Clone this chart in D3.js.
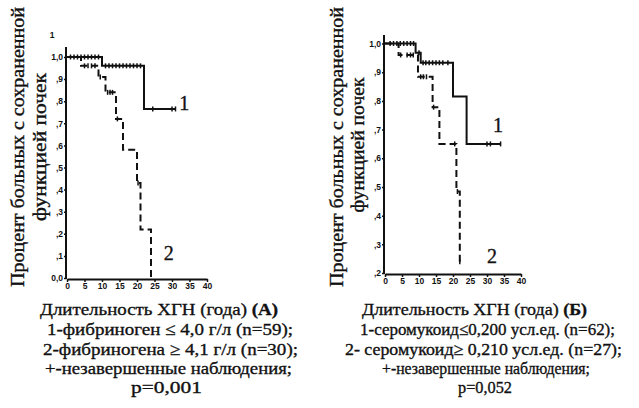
<!DOCTYPE html>
<html>
<head>
<meta charset="utf-8">
<script src="https://cdnjs.cloudflare.com/ajax/libs/d3/7.8.5/d3.min.js"></script>
<style>
  body { margin: 0; background: #fff; }
  svg { display: block; }
  text { font-family: "Liberation Serif", "Times New Roman", serif; fill: #111; }
  .big { stroke: #111; stroke-width: 0.35px; }
  .tick text { font-family: "Liberation Sans", Arial, sans-serif; font-weight: bold; font-size: 8.5px; }
</style>
</head>
<body>
<div id="chart"></div>
<script>
// ---- data ----
var xTicks = [0, 5, 10, 15, 20, 25, 30, 35, 40];

var leftYTicks = [0, 0.1, 0.2, 0.3, 0.4, 0.5, 0.6, 0.7, 0.8, 0.9, 1.0];
var leftYLabels = ["0,0", ",1", ",2", ",3", ",4", ",5", ",6", ",7", ",8", ",9", "1,0"];
var rightYTicks = [0.2, 0.3, 0.4, 0.5, 0.6, 0.7, 0.8, 0.9, 1.0];
var rightYLabels = [",2", ",3", ",4", ",5", ",6", ",7", ",8", ",9", "1,0"];

// (A) fibrinogen
var leftTime1 = [0, 10, 22, 31];
var leftSurv1 = [1.0, 0.96, 0.765, 0.765];
var leftCens1 = [1, 2, 3, 4, 5, 6, 7, 8, 9, 11, 12, 13, 14, 15, 16, 17, 18, 19, 20, 21, 24.5, 30, 31];
var leftTime2 = [0, 4, 9, 11, 14, 16, 20, 21, 24];
var leftSurv2 = [1.0, 0.96, 0.91, 0.84, 0.72, 0.58, 0.43, 0.22, 0];
var leftCens2 = [5, 6, 7, 8, 9.5, 11.6, 12.3, 13, 14.4, 20.3];

// (Б) seromucoid
var rightTime1 = [0, 9, 10.5, 20, 24, 34];
var rightSurv1 = [1.0, 0.968, 0.933, 0.815, 0.65, 0.65];
var rightCens1 = [1.5, 2.5, 3.5, 4.5, 5.5, 6.5, 7.5, 8.4, 10, 11.2, 12, 13, 14, 15, 16, 17, 18.5, 30, 31, 34];
var rightTime2 = [0, 4, 9.7, 14, 16, 21, 22];
var rightSurv2 = [1.0, 0.96, 0.884, 0.778, 0.65, 0.484, 0.239];
var rightCens2 = [4.6, 6.5, 7.5, 8.3, 10.5, 11.3, 12.2, 14.3, 20.5, 21.3, 22];

var yTitle1 = "Процент больных с сохраненной";
var yTitle2 = "функцией почек";
var leftCaption = ["Длительность ХГН (года) |(А)", "1-фибриноген ≤ 4,0 г/л (n=59);", "2-фибриногена ≥ 4,1 г/л (n=30);", "+-незавершенные наблюдения;", "p=0,001"];
var rightCaption = ["Длительность ХГН (года) |(Б)", "1-серомукоид≤0,200 усл.ед. (n=62);", "2- серомукоид≥ 0,210 усл.ед. (n=27);", "+-незавершенные наблюдения;", "p=0,052"];

// ---- layout ----
var width = 639, height = 408;

var svg = d3.select("#chart")
  .append("svg")
  .attr("width", width)
  .attr("height", height);

svg.append("rect").attr("width", width).attr("height", height).attr("fill", "#fff");

function zip(times, surv) {
  return times.map(function(t, i) { return { t: t, s: surv[i] }; });
}

function survAt(times, surv, t) {
  var k = 0;
  for (var i = 0; i < times.length; i++) {
    if (times[i] <= t) k = i;
  }
  return surv[k];
}

function drawPanel(opt) {
  var g = svg.append("g");
  var x = opt.x, y = opt.y;

  // axes
  var xAxis = d3.axisBottom(x)
    .tickValues(xTicks)
    .tickSize(3)
    .tickSizeOuter(0)
    .tickPadding(1);
  g.append("g")
    .attr("class", "axis x-axis")
    .attr("transform", "translate(0," + (y.range()[0] + 1) + ")")
    .call(xAxis);

  var yAxis = d3.axisLeft(y)
    .tickValues(opt.yTicks)
    .tickFormat(function(d, i) { return opt.yLabels[i]; })
    .tickSize(2)
    .tickPadding(1);
  var ya = g.append("g")
    .attr("class", "axis y-axis")
    .attr("transform", "translate(" + (x(0) - 1) + ",0)")
    .call(yAxis);
  ya.select(".domain").remove();

  g.append("line")
    .attr("x1", x(0) - 1).attr("x2", x(0) - 1)
    .attr("y1", y.range()[0] + 1).attr("y2", y(opt.yTop))
    .attr("stroke", "#111")
    .attr("stroke-width", 2);

  g.selectAll(".x-axis .domain").attr("stroke-width", 2).attr("stroke", "#111");
  g.selectAll(".tick line").attr("stroke", "#111").attr("stroke-width", 1.5);

  var line = d3.line()
    .x(function(d) { return x(d.t); })
    .y(function(d) { return y(d.s); })
    .curve(d3.curveStepAfter);

  // curve 2 (dashed)
  g.append("path")
    .datum(zip(opt.time2, opt.surv2))
    .attr("d", line)
    .attr("fill", "none")
    .attr("stroke", "#111")
    .attr("stroke-width", 2)
    .attr("stroke-dasharray", "7,4");

  // curve 1 (solid)
  g.append("path")
    .datum(zip(opt.time1, opt.surv1))
    .attr("d", line)
    .attr("fill", "none")
    .attr("stroke", "#111")
    .attr("stroke-width", 2);

  // censored observations
  var cens = opt.cens1.map(function(t) { return { t: t, s: survAt(opt.time1, opt.surv1, t) }; })
    .concat(opt.cens2.map(function(t) { return { t: t, s: survAt(opt.time2, opt.surv2, t) }; }));

  g.selectAll(".cens")
    .data(cens)
    .enter()
    .append("line")
    .attr("class", "cens")
    .attr("x1", function(d) { return x(d.t); })
    .attr("x2", function(d) { return x(d.t); })
    .attr("y1", function(d) { return y(d.s) - 2.5; })
    .attr("y2", function(d) { return y(d.s) + 2.5; })
    .attr("stroke", "#111")
    .attr("stroke-width", 1.5);

  // curve labels
  g.append("text")
    .attr("class", "big")
    .attr("x", x(opt.lab1[0]))
    .attr("y", y(opt.lab1[1]))
    .attr("text-anchor", "middle")
    .attr("style", "font-size:20px")
    .text("1");
  g.append("text")
    .attr("class", "big")
    .attr("x", x(opt.lab2[0]))
    .attr("y", y(opt.lab2[1]))
    .attr("text-anchor", "middle")
    .attr("style", "font-size:20px")
    .text("2");

  // y titles
  g.append("text")
    .attr("class", "big")
    .attr("transform", "translate(" + opt.title1[0] + "," + opt.title1[1] + ") rotate(-90)")
    .attr("text-anchor", "middle")
    .attr("textLength", opt.title1[2])
    .attr("lengthAdjust", "spacingAndGlyphs")
    .attr("style", "font-size:19px")
    .text(yTitle1);
  g.append("text")
    .attr("class", "big")
    .attr("transform", "translate(" + opt.title2[0] + "," + opt.title2[1] + ") rotate(-90)")
    .attr("text-anchor", "middle")
    .attr("textLength", opt.title2[2])
    .attr("lengthAdjust", "spacingAndGlyphs")
    .attr("style", "font-size:19px")
    .text(yTitle2);

  // caption under the chart
  var baselines = [315, 335, 355, 374, 393];
  opt.caption.forEach(function(s, i) {
    var t = g.append("text")
      .attr("class", "big")
      .attr("x", opt.capX[i])
      .attr("y", baselines[i])
      .attr("textLength", opt.capW[i])
      .attr("lengthAdjust", "spacingAndGlyphs")
      .attr("style", "font-size:17px");
    var parts = s.split("|");
    t.append("tspan").text(parts[0]);
    if (parts[1]) t.append("tspan").attr("font-weight", "bold").text(parts[1]);
  });
}

// (A)
var xL = d3.scaleLinear().domain([0, 40]).range([67, 207]);
var yL = d3.scaleLinear().domain([0, 1]).range([278, 57]);
drawPanel({
  x: xL, y: yL, yTop: 1.045,
  yTicks: leftYTicks, yLabels: leftYLabels,
  time1: leftTime1, surv1: leftSurv1, cens1: leftCens1,
  time2: leftTime2, surv2: leftSurv2, cens2: leftCens2,
  lab1: [33.5, 0.76], lab2: [29.1, 0.08],
  title1: [24, 147, 280], title2: [46, 147, 148],
  caption: leftCaption,
  capX: [40, 47, 43, 45, 131], capW: [238, 246, 255, 247, 71]
});
// stray "1" label above the left axis
svg.append("text")
  .attr("x", 52)
  .attr("y", yL(1.1) + 3)
  .attr("text-anchor", "middle")
  .attr("style", "font-family:'Liberation Sans',Arial,sans-serif;font-weight:bold;font-size:8.5px")
  .text("1");

// (Б)
var xR = d3.scaleLinear().domain([0, 40]).range([385, 521]);
var yR = d3.scaleLinear().domain([0.2, 1]).range([273, 43.5]);
drawPanel({
  x: xR, y: yR, yTop: 1.03,
  yTicks: rightYTicks, yLabels: rightYLabels,
  time1: rightTime1, surv1: rightSurv1, cens1: rightCens1,
  time2: rightTime2, surv2: rightSurv2, cens2: rightCens2,
  lab1: [33.2, 0.693], lab2: [31.5, 0.235],
  title1: [343, 147, 280], title2: [364, 145, 135],
  caption: rightCaption,
  capX: [362, 360, 345, 382, 458], capW: [225, 255, 277, 208, 54]
});
</script>
</body>
</html>
